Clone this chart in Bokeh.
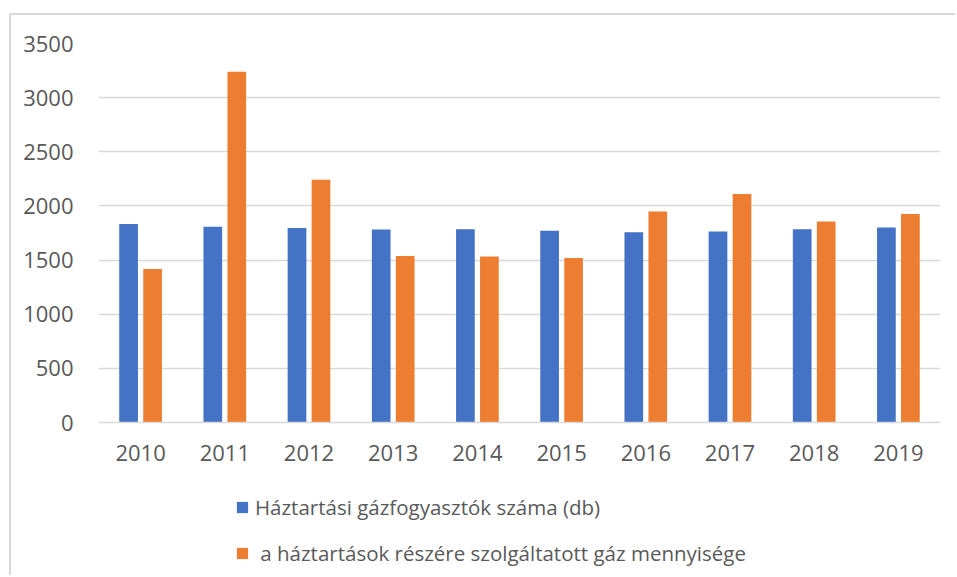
from bokeh.plotting import figure
from bokeh.layouts import column
from bokeh.models import ColumnDataSource, FactorRange, Range1d, Legend, LegendItem, FixedTicker
from bokeh.transform import dodge
from bokeh.embed import file_html
from bokeh.resources import INLINE

years = ["2010", "2011", "2012", "2013", "2014", "2015", "2016", "2017", "2018", "2019"]
fogyasztok = [1832, 1807, 1797, 1782, 1785, 1770, 1758, 1764, 1785, 1801]
mennyiseg = [1417, 3240, 2241, 1537, 1533, 1518, 1948, 2110, 1856, 1926]
y_ticks = [0, 500, 1000, 1500, 2000, 2500, 3000, 3500]
label_a = "Háztartási gázfogyasztók száma (db)"
label_b = " a háztartások részére szolgáltatott gáz mennyisége"

BLUE = "#4472C4"
ORANGE = "#ED7D31"
GREY_TXT = "#595959"
GRID = "#d9d9d9"

src = ColumnDataSource(dict(year=years, a=fogyasztok, b=mennyiseg))

W = 944
p = figure(
    width=W, height=465,
    x_range=FactorRange(*years, range_padding=0),
    y_range=Range1d(0, 3500),
    output_backend="svg", toolbar_location=None,
    min_border_left=87, min_border_right=15, min_border_top=28, min_border_bottom=58,
)
p.outline_line_color = None

ra = p.vbar(x=dodge("year", -0.1425, range=p.x_range), top="a", width=0.222,
            source=src, fill_color=BLUE, line_color=None)
rb = p.vbar(x=dodge("year", 0.1425, range=p.x_range), top="b", width=0.222,
            source=src, fill_color=ORANGE, line_color=None)

p.yaxis.ticker = FixedTicker(ticks=y_ticks)
p.yaxis.axis_line_color = None
p.yaxis.major_tick_line_color = None
p.yaxis.minor_tick_line_color = None
p.yaxis.major_label_standoff = 19
p.xaxis.axis_line_color = GRID
p.xaxis.axis_line_width = 1.5
p.xaxis.major_tick_line_color = None
p.xaxis.major_label_standoff = 16
for ax in (p.xaxis, p.yaxis):
    ax.major_label_text_font = "Open Sans"
    ax.major_label_text_font_size = "22px"
    ax.major_label_text_color = GREY_TXT
p.xgrid.grid_line_color = None
p.ygrid.grid_line_color = GRID
p.ygrid.grid_line_width = 1.5

# legend figure below the chart (its frame is aligned with the chart frame)
lp = figure(width=W, height=95, output_backend="svg", toolbar_location=None,
            x_range=Range1d(0, 1), y_range=Range1d(0, 1),
            min_border_left=87, min_border_right=15, min_border_top=0, min_border_bottom=0)
lp.axis.visible = False
lp.grid.visible = False
lp.outline_line_color = None
# legend swatch renderers (single off-range point each, only used for the legend glyph)
la = lp.vbar(x=[-10], top=[0], width=0.1, fill_color=BLUE, line_color=None)
lb = lp.vbar(x=[-10], top=[0], width=0.1, fill_color=ORANGE, line_color=None)

legend = Legend(
    items=[LegendItem(label=label_a, renderers=[la]), LegendItem(label=label_b, renderers=[lb])],
    location=(137, 8), orientation="vertical",
    glyph_width=14, glyph_height=14, label_standoff=6, spacing=18, padding=0, margin=0,
    label_text_font="Open Sans", label_text_font_size="20.5px", label_text_color=GREY_TXT,
    border_line_color=None, background_fill_alpha=0,
)
lp.add_layout(legend, "center")

layout = column(p, lp, spacing=0, styles={
    "margin-left": "9px", "margin-top": "13px",
    "border-left": "2px solid #d9d9d9", "border-top": "2px solid #d9d9d9",
})

open("out.html", "w").write(file_html(layout, INLINE))
